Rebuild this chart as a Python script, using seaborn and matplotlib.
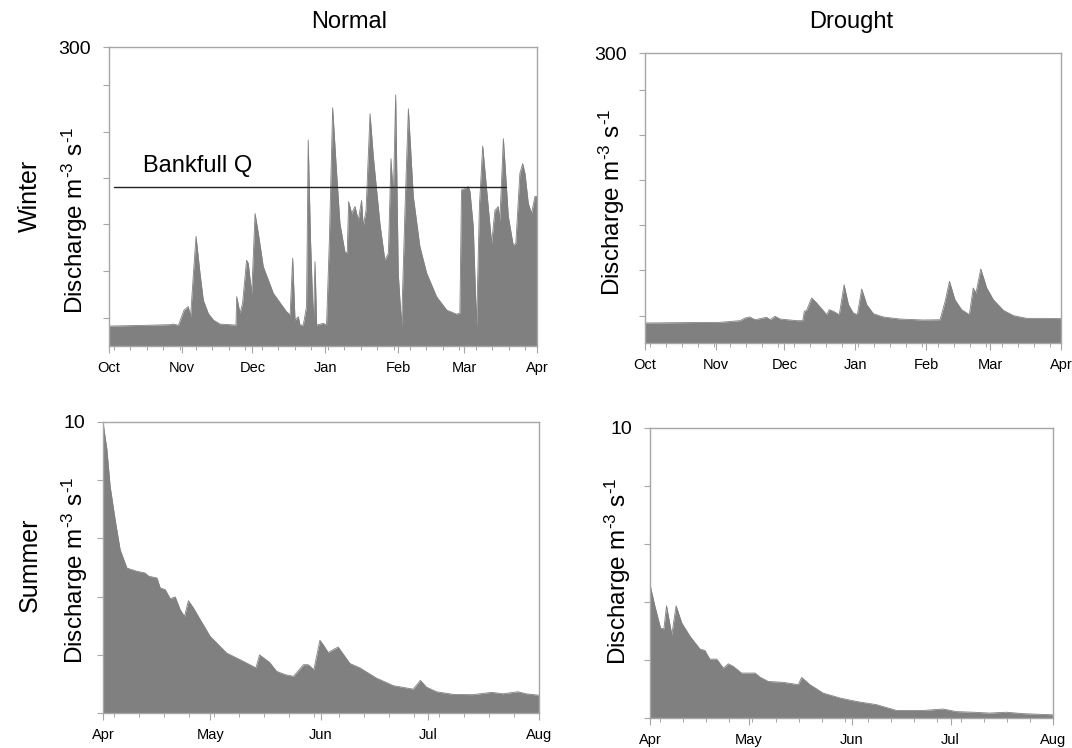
import pandas as pd
import numpy as np
import matplotlib
matplotlib.use("Agg")
import matplotlib.pyplot as plt
import matplotlib.dates as mdates
import seaborn as sns

# days since start of season, discharge
winter_normal_day = [0, 14.6, 25.9, 27.4, 29.5, 31.9, 33.7, 34.7, 35.9, 37.0, 38.7, 40.1, 42.2, 44.4,
                     47.2, 54.0, 54.3, 55.7, 56.8, 58.5, 59.2, 60.7, 62.1, 63.5, 65.6, 69.9, 75.5,
                     77.0, 78.1, 79.1, 80.5, 81.2, 82.6, 84.0, 84.7, 85.7, 86.9, 87.6, 88.3, 91.1,
                     92.5, 93.7, 95.1, 96.8, 98.2, 100.3, 101.3, 101.9, 103.2, 104.6, 106.0, 107.4,
                     108.1, 109.3, 111.0, 112.4, 115.2, 117.3, 118.8, 119.9, 120.9, 121.9, 123.0,
                     124.4, 125.9, 127.3, 129.4, 132.2, 135.1, 139.3, 143.6, 147.8, 149.2, 149.9,
                     151.4, 152.8, 153.5, 154.9, 156.3, 157.5, 158.9, 160.6, 162.7, 164.1, 165.5,
                     166.2, 167.7, 169.8, 171.9, 173.0, 174.7, 175.9, 176.9, 178.3, 179.7, 181.1, 182]
winter_normal_q = [20, 20.7, 21.4, 22, 20.7, 36, 39.5, 29.4, 72.9, 110, 73, 46, 32.8, 26,
                   22, 21, 49.5, 32.8, 42.8, 86, 83, 52.8, 133, 113, 79.6, 52.8, 34.4,
                   31.1, 88, 26, 29.4, 21, 21, 39.5, 206.7, 106, 22.7, 84.6, 21, 22.7,
                   21, 106, 239, 173, 123, 94.6, 93, 144.8, 133, 140, 126, 146,
                   120, 136, 233, 190, 123, 86, 93, 188, 150, 252, 73,
                   20, 140, 238, 150, 99.7, 73, 49.5, 36, 32, 33, 156.5,
                   158, 160, 155, 120, 20, 140, 200.7, 156.5, 103, 136, 140,
                   126, 208, 130, 101, 103, 173, 183, 173, 143, 133, 150, 150]

winter_drought_day = [0, 32.8, 41.6, 43.8, 45.9, 48.1, 53.2, 54.7, 56.9, 59.1, 66.4, 69.0, 69.7,
                      70.7, 72.9, 75.1, 79.5, 80.6, 82.4, 85.0, 87.1, 89.0, 91.1, 92.9, 94.8,
                      97.0, 99.9, 104.3, 111.6, 121.8, 129.1, 131.3, 133.2, 135.6, 138.5, 141.9,
                      143.6, 144.8, 146.9, 149.5, 152.4, 156.8, 161.2, 167.0, 175.7, 182]
winter_drought_q = [20.7, 21.4, 23.1, 25.9, 26.9, 24.1, 26.6, 24.1, 27.6, 24.8, 23.1, 23.1, 32.8,
                    33.8, 46.6, 41.4, 29.3, 34.5, 32.8, 29.3, 60.3, 39.7, 31, 29.3, 55.9,
                    39.7, 30.3, 26.9, 24.8, 23.8, 24.1, 43.1, 63.8, 44.8, 34.5, 29.3,
                    56.9, 51.7, 76.6, 56.9, 44.8, 33.8, 28.3, 25.5, 25.5, 25.2]

summer_normal_day = [0, 1.1, 2.0, 3.4, 4.8, 6.7, 9.5, 11.8, 12.8, 15.1, 16.0, 17.4, 18.8, 20.2,
                     21.6, 22.8, 23.9, 25.3, 27.2, 30.0, 34.6, 38.4, 42.8, 43.8, 46.6, 48.6,
                     50.9, 53.3, 56.1, 57.4, 59.0, 60.7, 61.6, 63.0, 65.8, 69.1, 71.9, 76.5,
                     81.2, 86.8, 88.8, 90.5, 93.3, 98.0, 103.5, 108.7, 111.9, 116.1, 118.4, 122]
summer_normal_q = [10, 9.05, 7.79, 6.64, 5.61, 4.98, 4.87, 4.81, 4.70, 4.64, 4.30, 4.24, 3.93, 3.99,
                   3.55, 3.32, 3.86, 3.61, 3.21, 2.63, 2.06, 1.83, 1.55, 2.00, 1.74, 1.43,
                   1.32, 1.26, 1.66, 1.66, 1.49, 2.50, 2.35, 2.08, 2.27, 1.70, 1.55, 1.20,
                   0.94, 0.82, 1.12, 0.89, 0.73, 0.64, 0.63, 0.71, 0.66, 0.73, 0.66, 0.61]

summer_drought_day = [0, 1.5, 3.2, 4.2, 5.0, 6.6, 7.9, 9.6, 12.1, 15.1, 16.6, 18.1, 20.2, 22.2,
                      23.7, 25.2, 27.7, 31.8, 33.3, 35.8, 40.3, 44.9, 45.9, 48.4, 52.4, 57.5,
                      62.5, 68.6, 74.6, 82.7, 88.7, 92.8, 97.8, 102.8, 107.9, 112.9, 122]
summer_drought_q = [4.60, 3.85, 3.10, 3.07, 3.87, 2.87, 3.87, 3.28, 2.82, 2.38, 2.33, 2.03, 2.03, 1.72,
                    1.87, 1.78, 1.55, 1.55, 1.41, 1.26, 1.23, 1.15, 1.40, 1.15, 0.86, 0.69,
                    0.57, 0.46, 0.26, 0.26, 0.31, 0.22, 0.20, 0.17, 0.20, 0.15, 0.11]

winter_start, winter_end = "2000-10-01", "2001-04-01"
summer_start, summer_end = "2001-04-01", "2001-08-01"
bankfull_q = 160
bankfull_days = [2, 169]
winter_ticks = [28, 75, 122, 169, 215, 262, 300]
summer_ticks = [0, 2, 4, 6, 8, 10]

sns.set_style("ticks")
plt.rcParams['font.family'] = ['Liberation Sans', 'DejaVu Sans']
plt.rcParams['mathtext.fontset'] = 'custom'
plt.rcParams['mathtext.rm'] = 'Liberation Sans'
plt.rcParams['mathtext.default'] = 'regular'
plt.rcParams['text.color'] = 'black'
plt.rcParams['axes.labelcolor'] = 'black'

fill = '#808080'
edge = '#a6a6a6'

fig = plt.figure(figsize=(10.72, 7.48), dpi=100)
W, H = 1072, 748


def box(l, t, r, b):
    return [l / W, 1 - b / H, (r - l) / W, (b - t) / H]


panels = [
    (box(109, 47, 537, 346), winter_normal_day, winter_normal_q, winter_start, winter_end, 300, (-0.044, 0.42), 2),
    (box(645, 53, 1061, 343), winter_drought_day, winter_drought_q, winter_start, winter_end, 300, (-0.043, 0.486), 2),
    (box(103, 422, 539, 713), summer_normal_day, summer_normal_q, summer_start, summer_end, 10, (-0.03, 0.49), 3),
    (box(650, 428, 1053, 718), summer_drought_day, summer_drought_q, summer_start, summer_end, 10, (-0.042, 0.507), 3),
]

axes = []
for rect, days, q, start, end, top, lab_xy, off in panels:
    ax = fig.add_axes(rect)
    t0 = pd.Timestamp(start)
    df = pd.DataFrame({"date": t0 + pd.to_timedelta(days, unit="D"), "q": q})
    sns.lineplot(data=df, x="date", y="q", ax=ax, color=fill, linewidth=0.6)
    ax.fill_between(df["date"], df["q"], 0, color=fill, linewidth=0)
    ax.set_xlim(t0, pd.Timestamp(end))
    ax.set_ylim(0, top)

    ticks = winter_ticks if top == 300 else summer_ticks
    ax.set_yticks(ticks)
    ax.set_yticklabels(["" if v != top else str(top) for v in ticks])
    ax.xaxis.set_major_locator(mdates.MonthLocator())
    ax.xaxis.set_major_formatter(mdates.DateFormatter("%b"))
    ax.set_xticks(pd.date_range(t0 + pd.Timedelta(days=off), end, freq="7D"), minor=True)

    ax.tick_params(axis='y', labelsize=14, length=4, width=0.8, color=edge, labelcolor='black', pad=9)
    ax.tick_params(axis='x', which='major', labelsize=10.5, length=5, width=0.8, color=edge,
                   labelcolor='black', pad=6)
    ax.tick_params(axis='x', which='minor', length=3, width=0.7, color=edge)
    for s in ax.spines.values():
        s.set_color(edge)
        s.set_linewidth(1.0)

    ax.set_xlabel("")
    ax.set_ylabel(r"Discharge m$^{\text{-3}}$ s$^{\text{-1}}$", fontsize=17.5)
    ax.yaxis.set_label_coords(*lab_xy)
    axes.append(ax)

# bankfull discharge line on the normal winter panel
ax = axes[0]
t0 = pd.Timestamp(winter_start)
ax.plot([t0 + pd.Timedelta(days=d) for d in bankfull_days], [bankfull_q, bankfull_q],
        color='#222222', linewidth=1.0)
ax.text(t0 + pd.Timedelta(days=14.5), 175, "Bankfull Q", fontsize=17, va='baseline')

fig.text(349 / W, 1 - 22 / H, "Normal", fontsize=17, ha='center', va='center')
fig.text(851 / W, 1 - 22 / H, "Drought", fontsize=17, ha='center', va='center')
fig.text(30 / W, 1 - 196 / H, "Winter", fontsize=18, rotation=90, ha='center', va='center')
fig.text(30 / W, 1 - 565 / H, "Summer", fontsize=18, rotation=90, ha='center', va='center')

fig.savefig("out.png", dpi=100)
